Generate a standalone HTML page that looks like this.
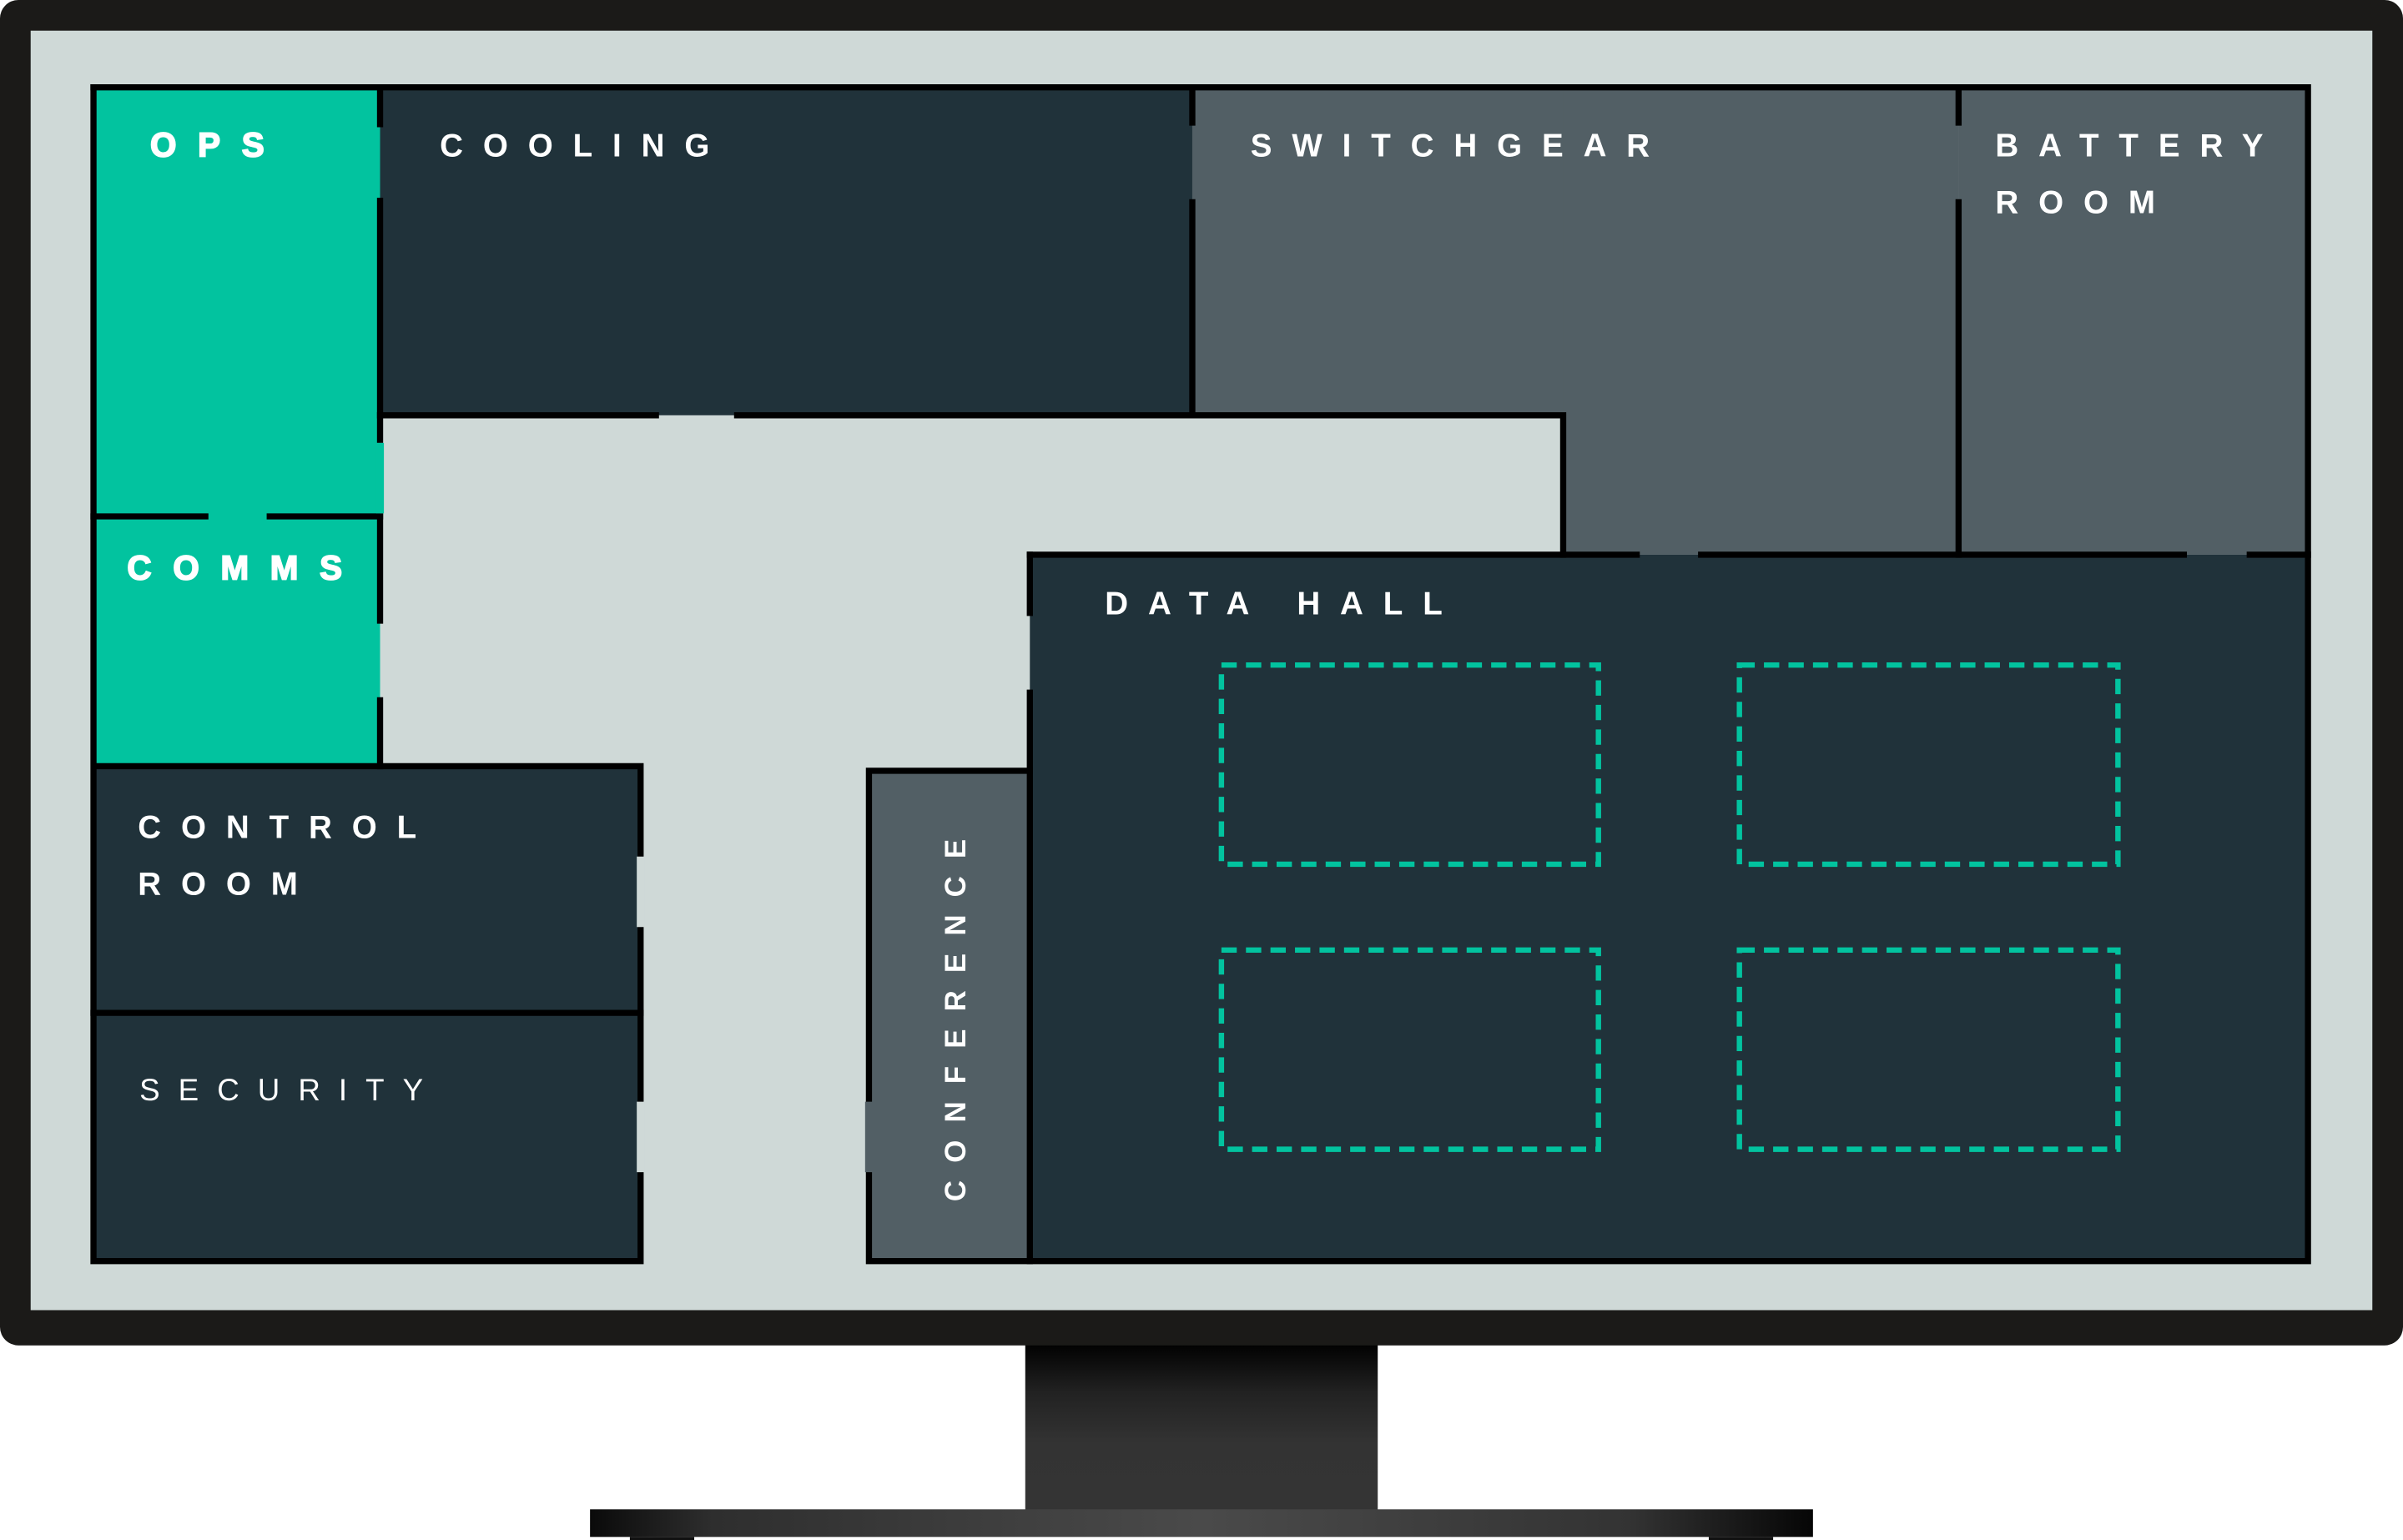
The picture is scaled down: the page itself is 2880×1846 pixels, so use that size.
<!DOCTYPE html>
<html><head><meta charset="utf-8"><style>
html,body{margin:0;padding:0;background:#fff;width:2880px;height:1846px;overflow:hidden}
svg{display:block}
text{font-family:"Liberation Sans",Arial,sans-serif;font-weight:bold;fill:#fff;font-size:21px;letter-spacing:13px}
.hv{font-size:22px;letter-spacing:14px;stroke:#fff;stroke-width:1}
</style></head><body>
<svg width="2880" height="1846" viewBox="0 0 1568 1005" preserveAspectRatio="none" xmlns="http://www.w3.org/2000/svg">
<defs>
<linearGradient id="neck" x1="0" y1="0" x2="0" y2="1">
<stop offset="0" stop-color="#000"/><stop offset="0.3" stop-color="#222"/><stop offset="0.6" stop-color="#333"/><stop offset="1" stop-color="#343434"/></linearGradient>
<linearGradient id="base" x1="0" y1="0" x2="1" y2="0">
<stop offset="0" stop-color="#0a0a0a"/><stop offset="0.1" stop-color="#2e2e2e"/><stop offset="0.5" stop-color="#4a4a4a"/><stop offset="0.85" stop-color="#333"/><stop offset="1" stop-color="#060606"/></linearGradient>
</defs>
<rect x="669" y="876" width="230" height="110" fill="url(#neck)"/>
<rect x="385" y="985" width="798" height="18" fill="url(#base)"/>
<rect x="411" y="1003" width="42" height="2" fill="#111"/>
<rect x="1115" y="1003" width="42" height="2" fill="#111"/>
<rect x="0" y="0" width="1568" height="878" rx="12" fill="#1b1a18"/>
<rect x="20" y="20" width="1528" height="835" fill="#cfd9d7"/>
<rect x="61" y="57" width="187" height="443" fill="#02c39f"/>
<rect x="248" y="57" width="530" height="214" fill="#20323a"/>
<rect x="778" y="57" width="500" height="214" fill="#525f65"/>
<rect x="1020" y="57" width="258" height="305" fill="#525f65"/>
<rect x="1278" y="57" width="228" height="305" fill="#525f65"/>
<rect x="672" y="362" width="834" height="461" fill="#20323a"/>
<rect x="567" y="503" width="105" height="320" fill="#525f65"/>
<rect x="61" y="500" width="357" height="323" fill="#20323a"/>
<g stroke="#000" stroke-width="4" stroke-linecap="square" fill="none">
<path d="M61 57H1506V823H567V503H672"/>
<path d="M61 57V823H418V500H61"/>
<path d="M61 661H418"/>
<path d="M248 57V81M248 131V287M248 337V405M248 457V500"/>
<path d="M61 337H134M176 337H248"/>
<path d="M248 271H428M481 271H1020V362"/>
<path d="M778 57V80M778 132V271"/>
<path d="M1278 57V80M1278 132V362"/>
<path d="M672 362H1068M1110 362H1425M1468 362H1506"/>
<path d="M672 362V400M672 452V823"/>
</g>
<g stroke="#cfd9d7" stroke-width="5">
<path d="M418 559V605M418 719V765"/>
</g>
<g stroke="#525f65" stroke-width="5"><path d="M567 719V765"/></g>
<g stroke="#02c39f" stroke-width="5"><path d="M248 289V335"/></g>
<g stroke="#02c39f" stroke-width="3.5" fill="none" stroke-dasharray="10 6">
<rect x="797" y="434" width="246" height="130"/>
<rect x="1135" y="434" width="247" height="130"/>
<rect x="797" y="620" width="246" height="130"/>
<rect x="1135" y="620" width="247" height="130"/>
</g>
<text class="hv" x="98" y="102">OPS</text>
<text x="287" y="102">COOLING</text>
<text x="816" y="102">SWITCHGEAR</text>
<text x="1302" y="102">BATTERY</text>
<text x="1302" y="139">ROOM</text>
<text class="hv" x="83" y="378">COMMS</text>
<text x="721" y="401">DATA HALL</text>
<text x="90" y="547">CONTROL</text>
<text x="90" y="584">ROOM</text>
<text x="91" y="718" style="font-weight:normal;font-size:20px;letter-spacing:12px">SECURITY</text>
<text x="0" y="0" transform="translate(630 784) rotate(-90)" style="font-size:19px;letter-spacing:11.5px">CONFERENCE</text>
</svg>
</body></html>
